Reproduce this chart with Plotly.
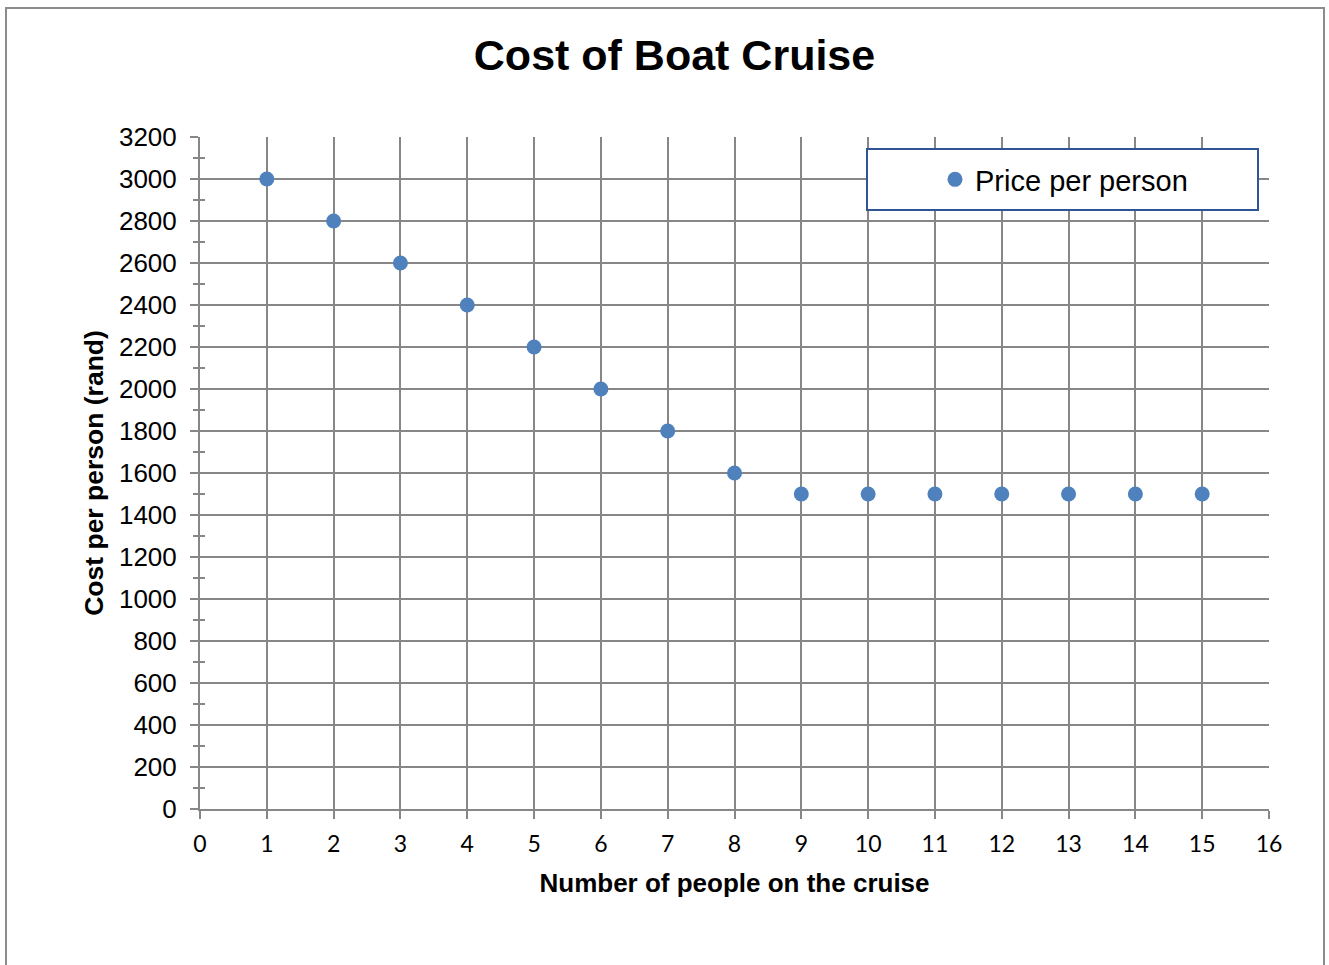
import plotly.graph_objects as go

people = [1, 2, 3, 4, 5, 6, 7, 8, 9, 10, 11, 12, 13, 14, 15]
price_per_person = [3000, 2800, 2600, 2400, 2200, 2000, 1800, 1600,
                    1500, 1500, 1500, 1500, 1500, 1500, 1500]
series_name = "Price per person"
title_text = "Cost of Boat Cruise"
x_title = "Number of people on the cruise"
y_title = "Cost per person (rand)"

W, H = 1329, 965
L, R, T, B = 200, 60, 137, 156
pw, ph = W - L - R, H - T - B

def px(x):
    return (x - L) / pw

def py(y):
    return (H - B - y) / ph

GRID = "#878787"

fig = go.Figure()
fig.add_trace(go.Scatter(
    x=people, y=price_per_person, mode="markers", name=series_name,
    marker=dict(color="#4F81BD", size=15),
))
# invisible trace on overlaying axis for inner minor ticks
fig.add_trace(go.Scatter(x=[0], y=[0], yaxis="y2", mode="markers",
                         marker=dict(opacity=0), showlegend=False,
                         hoverinfo="skip"))

fig.update_layout(
    width=W, height=H,
    margin=dict(l=L, r=R, t=T, b=B),
    paper_bgcolor="white", plot_bgcolor="white",
    title=dict(text="<b>" + title_text + "</b>", x=674.5 / W, xanchor="center",
               y=1 - 55 / H, yanchor="middle",
               font=dict(family="Liberation Sans", size=43, color="black")),
    xaxis=dict(
        range=[0, 16], dtick=1, tick0=0,
        showgrid=True, gridcolor=GRID, gridwidth=2,
        showline=True, linecolor=GRID, linewidth=2,
        ticks="outside", ticklen=8, tickcolor=GRID, tickwidth=2,
        ticklabelstandoff=5,
        zeroline=False,
        tickfont=dict(family="Lato", size=23, color="black"),
        title=dict(text="<b>" + x_title + "</b>", standoff=18,
                   font=dict(family="Liberation Sans", size=26, color="black")),
    ),
    yaxis=dict(
        range=[0, 3200], dtick=200, tick0=0,
        showgrid=True, gridcolor=GRID, gridwidth=2,
        showline=True, linecolor=GRID, linewidth=2,
        ticks="outside", ticklen=8, tickcolor=GRID, tickwidth=2,
        ticklabelstandoff=8,
        minor=dict(dtick=100, ticks="outside", ticklen=5, tickcolor=GRID,
                   tickwidth=2, showgrid=False),
        zeroline=False,
        tickfont=dict(family="Liberation Sans", size=26, color="black"),
        title=dict(text="<b>" + y_title + "</b>", standoff=8,
                   font=dict(family="Liberation Sans", size=26.5, color="black")),
    ),
    yaxis2=dict(
        range=[0, 3200], overlaying="y", side="left", dtick=200,
        showgrid=False, showline=False, showticklabels=False, ticks="",
        zeroline=False,
        minor=dict(dtick=100, ticks="inside", ticklen=5, tickcolor=GRID,
                   tickwidth=2, showgrid=False),
    ),
    showlegend=True,
    legend=dict(x=px(1064), y=py(179.5), xanchor="center", yanchor="middle",
                bgcolor="rgba(0,0,0,0)", borderwidth=0,
                font=dict(family="Liberation Sans", size=29, color="black")),
    shapes=[
        dict(type="rect", xref="paper", yref="paper",
             x0=px(867), x1=px(1258), y0=py(210), y1=py(149),
             line=dict(color="#2F5597", width=2), fillcolor="white",
             layer="above"),
        dict(type="rect", xref="paper", yref="paper",
             x0=px(6), x1=px(1324), y0=py(990), y1=py(8),
             line=dict(color="#8C8C8C", width=2), fillcolor="rgba(0,0,0,0)",
             layer="below"),
    ],
)

fig.write_html("out.html",
               config={"displayModeBar": False},
               post_script="document.body.style.margin='0';")
